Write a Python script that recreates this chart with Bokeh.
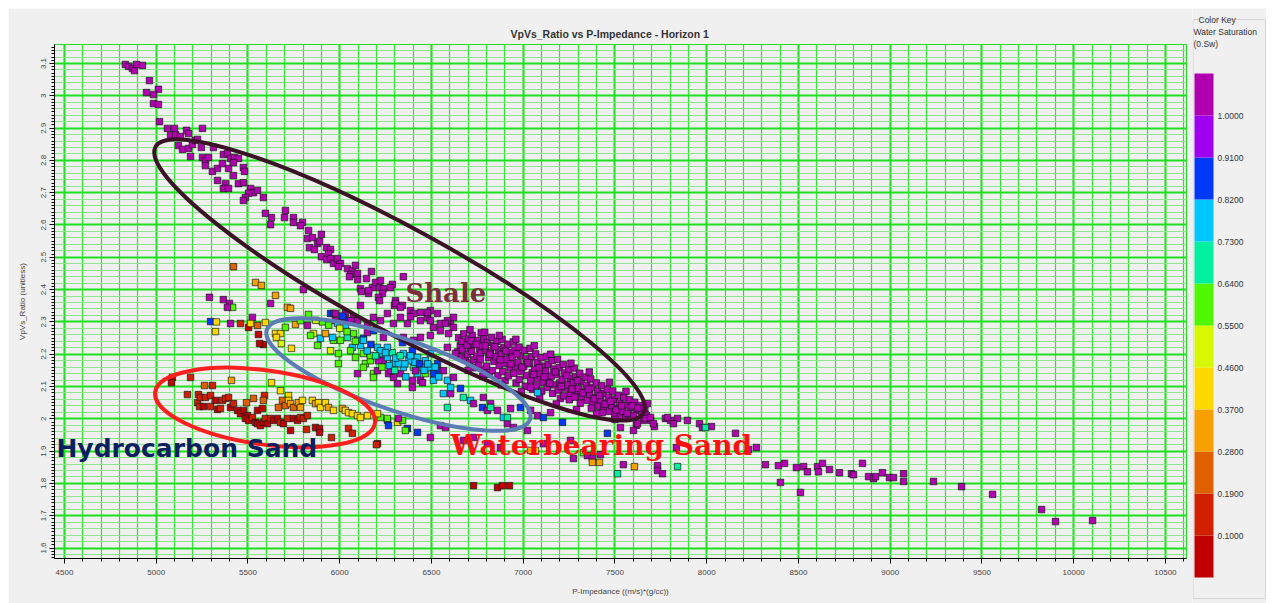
from bokeh.core.properties import value
from bokeh.embed import file_html
from bokeh.layouts import column, row
from bokeh.models import (ColumnDataSource, CustomJSTickFormatter, Label,
                          LinearColorMapper, Range1d, SingleIntervalTicker, Spacer)
from bokeh.plotting import figure
from bokeh.resources import INLINE
import math

TITLE = "VpVs_Ratio vs P-Impedance - Horizon 1"
X_LABEL = "P-Impedance ((m/s)*(g/cc))"
Y_LABEL = "VpVs_Ratio (unitless)"

# Water saturation colour key: 12 classes, low -> high
SW_EDGES = [0.01, 0.10, 0.19, 0.28, 0.37, 0.46, 0.55, 0.64, 0.73, 0.82, 0.91, 1.00, 1.09]
SW_TICKS = [0.10, 0.19, 0.28, 0.37, 0.46, 0.55, 0.64, 0.73, 0.82, 0.91, 1.00]
SW_TICK_LABELS = ["0.1000", "0.1900", "0.2800", "0.3700", "0.4600", "0.5500",
                  "0.6400", "0.7300", "0.8200", "0.9100", "1.0000"]
SW_COLORS = ["#c00000", "#d02000", "#e06000", "#f8a000", "#ffd800", "#d8f800",
             "#50f800", "#00f0a0", "#00c8ff", "#0038f8", "#a000f0", "#b000b0"]

SHALE_SW = 1.0

# Shale trend (Sw = 1): (P-impedance, Vp/Vs)
shale_trend = [
    (4832, 3.097), (4849, 3.091), (4870, 3.085), (4881, 3.078), (4892, 3.097), (4925, 3.094),
    (4963, 3.047), (5012, 3.020), (4947, 3.010), (4985, 3.004), (4985, 2.976), (5012, 2.973),
    (5018, 2.920), (5061, 2.899), (5099, 2.899), (5165, 2.893), (5252, 2.899),
    (5078, 2.877), (5105, 2.880), (5132, 2.874), (5176, 2.883),
    (5121, 2.846), (5143, 2.834), (5176, 2.837), (5197, 2.849), (5187, 2.812), (5214, 2.862),
    (5225, 2.865), (5246, 2.840), (5252, 2.809), (5268, 2.800), (5285, 2.809), (5268, 2.784),
    (5312, 2.840), (5306, 2.766), (5334, 2.775), (5366, 2.818), (5388, 2.821), (5405, 2.806),
    (5426, 2.809), (5448, 2.806), (5361, 2.790), (5394, 2.775), (5421, 2.793), (5475, 2.778),
    (5481, 2.766), (5334, 2.738), (5377, 2.728), (5366, 2.713), (5394, 2.713), (5421, 2.753),
    (5448, 2.728), (5475, 2.731), (5514, 2.713), (5530, 2.700), (5503, 2.698), (5486, 2.685),
    (5475, 2.676), (5584, 2.685), (5552, 2.707), (5595, 2.636), (5628, 2.623), (5623, 2.601),
    (5704, 2.645), (5699, 2.623), (5748, 2.623), (5748, 2.608), (5797, 2.608), (5786, 2.598),
    (5830, 2.583), (5824, 2.558), (5851, 2.561), (5900, 2.571), (5879, 2.543), (5890, 2.549),
    (5835, 2.530), (5862, 2.524), (5900, 2.502), (5928, 2.530), (5950, 2.524), (5939, 2.512),
    (5928, 2.493), (5950, 2.496), (5966, 2.481), (5988, 2.496), (6004, 2.481), (5993, 2.471),
    (6042, 2.465), (6069, 2.459), (6086, 2.475), (6059, 2.447), (6097, 2.450), (6053, 2.440),
    (6097, 2.431), (6146, 2.434), (6173, 2.456), (6113, 2.403), (6118, 2.394), (6157, 2.388),
    (6178, 2.406), (6195, 2.422), (6222, 2.428), (6217, 2.406), (6238, 2.403), (6233, 2.388),
    (6211, 2.376), (6217, 2.366), (6287, 2.416), (6304, 2.366), (6298, 2.351), (6342, 2.351),
    (6347, 2.440), (5802, 2.400), (6113, 2.351), (6157, 2.397), (6277, 2.406), (6304, 2.357),
    (6331, 2.345), (6386, 2.335), (6440, 2.329), (6494, 2.335), (6533, 2.326), (6604, 2.298),
    (6620, 2.314), (6031, 2.326), (6075, 2.314), (6097, 2.304), (6151, 2.295), (6184, 2.314),
    (6222, 2.304), (6260, 2.326), (6293, 2.295), (6331, 2.314), (6369, 2.295), (6402, 2.326),
    (6440, 2.304), (6478, 2.314), (6511, 2.283), (6549, 2.295), (6587, 2.304), (6620, 2.283),
    (6386, 2.316), (6478, 2.329), (6494, 2.304), (6576, 2.295), (6549, 2.273), (6593, 2.264),
    (6494, 2.258), (6440, 2.252), (6402, 2.243), (6347, 2.252),
]

# Dense shale cloud (Sw = 1)
shale_core = [
    (6648, 2.251), (6657, 2.226), (6642, 2.207), (6661, 2.192),
    (6676, 2.263), (6689, 2.238), (6671, 2.215), (6684, 2.188),
    (6703, 2.247), (6712, 2.219), (6697, 2.199), (6708, 2.173),
    (6722, 2.258), (6735, 2.231), (6718, 2.209), (6731, 2.182), (6740, 2.158),
    (6753, 2.243), (6762, 2.217), (6747, 2.194), (6758, 2.167),
    (6771, 2.266), (6786, 2.247), (6779, 2.225), (6768, 2.203), (6790, 2.151),
    (6805, 2.237), (6797, 2.212), (6812, 2.189), (6801, 2.163), (6815, 2.138),
    (6828, 2.252), (6838, 2.227), (6823, 2.204), (6841, 2.178), (6832, 2.149),
    (6857, 2.240), (6866, 2.214), (6851, 2.192), (6869, 2.165), (6862, 2.133),
    (6885, 2.246), (6895, 2.221), (6881, 2.199), (6898, 2.171), (6889, 2.146), (6901, 2.118),
    (6917, 2.231), (6925, 2.206), (6912, 2.184), (6928, 2.157), (6919, 2.133),
    (6946, 2.238), (6955, 2.213), (6941, 2.191), (6958, 2.163), (6949, 2.141), (6961, 2.111),
    (6977, 2.222), (6985, 2.196), (6972, 2.174), (6988, 2.147), (6979, 2.122),
    (7008, 2.212), (7016, 2.185), (7003, 2.162), (7019, 2.134), (7012, 2.101),
    (7037, 2.218), (7045, 2.192), (7033, 2.171), (7049, 2.143), (7041, 2.119), (7052, 2.091),
    (7068, 2.201), (7076, 2.175), (7063, 2.153), (7079, 2.125), (7071, 2.102),
    (7097, 2.189), (7106, 2.163), (7093, 2.141), (7109, 2.112), (7101, 2.086),
    (7128, 2.193), (7136, 2.169), (7123, 2.147), (7139, 2.121), (7131, 2.097),
    (7158, 2.180), (7166, 2.154), (7153, 2.132), (7169, 2.105), (7161, 2.079),
    (7187, 2.184), (7196, 2.159), (7183, 2.137), (7199, 2.111), (7191, 2.089), (7203, 2.063),
    (7218, 2.168), (7226, 2.142), (7213, 2.121), (7229, 2.095), (7221, 2.071),
    (7248, 2.151), (7256, 2.126), (7243, 2.105), (7259, 2.079), (7251, 2.059),
    (7278, 2.157), (7286, 2.131), (7273, 2.111), (7289, 2.087), (7281, 2.067),
    (7308, 2.141), (7316, 2.116), (7303, 2.094), (7319, 2.069), (7311, 2.048),
    (7338, 2.129), (7346, 2.104), (7333, 2.083), (7349, 2.057),
    (7368, 2.123), (7376, 2.097), (7363, 2.076), (7379, 2.051), (7371, 2.033),
    (7398, 2.111), (7406, 2.086), (7393, 2.065), (7409, 2.039),
    (7428, 2.103), (7436, 2.079), (7423, 2.059), (7439, 2.033), (7431, 2.019),
    (7458, 2.091), (7466, 2.067), (7453, 2.047), (7469, 2.023),
    (7488, 2.086), (7496, 2.061), (7483, 2.041), (7499, 2.014),
    (7518, 2.073), (7526, 2.049), (7513, 2.031), (7529, 2.009),
    (7548, 2.067), (7556, 2.043), (7543, 2.023), (7559, 2.005),
    (7578, 2.059), (7586, 2.035), (7573, 2.015),
    (7608, 2.051), (7616, 2.027), (7603, 2.009),
    (7638, 2.041), (7646, 2.021), (7663, 2.031), (7671, 2.011),
    (6665, 2.240), (6694, 2.228), (6716, 2.242), (6744, 2.230), (6766, 2.185), (6793, 2.226),
    (6818, 2.200), (6846, 2.223), (6874, 2.183), (6905, 2.210), (6933, 2.170), (6965, 2.201),
    (6994, 2.160), (7024, 2.174), (7057, 2.137), (7087, 2.158), (7114, 2.130), (7145, 2.110),
    (7175, 2.145), (7208, 2.100), (7236, 2.134), (7265, 2.092), (7296, 2.118), (7325, 2.080),
    (7355, 2.092), (7386, 2.062), (7416, 2.072), (7446, 2.045), (7476, 2.054), (7506, 2.027),
    (7536, 2.040), (7566, 2.017), (7596, 2.040), (7626, 2.033),
    (6710, 2.276), (6790, 2.268), (6870, 2.258), (6960, 2.246), (7060, 2.226), (7150, 2.200),
    (7260, 2.172), (7360, 2.145), (7470, 2.113), (7560, 2.085),
    (6700, 2.150), (6780, 2.132), (6880, 2.105), (6990, 2.085), (7090, 2.066), (7180, 2.046),
    (7290, 2.028), (7400, 2.016), (7500, 1.998),
    (7677, 2.047), (7694, 1.995), (7655, 1.995), (7775, 2.001), (7803, 1.995), (7841, 2.001),
    (7819, 1.985), (7895, 1.995), (7715, 1.976), (7961, 1.985), (7977, 1.973), (8026, 1.976),
    (7617, 1.980), (7835, 1.911), (8271, 1.911), (8228, 1.905), (8157, 1.955),
]

# High-impedance shale tail (Sw = 1)
shale_tail = [
    (8320, 1.858), (8391, 1.855), (8424, 1.862), (8489, 1.849), (8528, 1.852), (8549, 1.836),
    (8604, 1.852), (8609, 1.836), (8631, 1.862), (8669, 1.843), (8724, 1.833), (8789, 1.830),
    (8800, 1.827), (8849, 1.862), (8882, 1.821), (8909, 1.815), (8920, 1.821), (8958, 1.833),
    (8996, 1.818), (9018, 1.818), (9073, 1.830), (9073, 1.806), (9236, 1.806), (9389, 1.790),
    (9558, 1.766), (9825, 1.719), (9901, 1.682), (10103, 1.685), (8402, 1.803), (8511, 1.772),
]

# Brine sand and mixed samples: (P-impedance, Vp/Vs, Sw)
brine_sand = [
    (5296, 2.301, 0.86), (5328, 2.300, 0.42), (5323, 2.270, 0.42), (5405, 2.295, 1.0),
    (5459, 2.295, 0.15), (5524, 2.314, 1.0), (5503, 2.283, 0.05), (5557, 2.261, 0.05),
    (5584, 2.230, 0.05), (5563, 2.233, 0.05), (5514, 2.295, 0.42), (5552, 2.289, 0.24),
    (5595, 2.298, 0.42), (5650, 2.264, 0.42), (5677, 2.264, 0.42), (5655, 2.252, 0.42),
    (5682, 2.233, 0.50), (5737, 2.218, 0.42), (5704, 2.283, 0.60), (5759, 2.292, 0.32),
    (5786, 2.304, 0.60), (5830, 2.323, 0.60), (5824, 2.289, 1.0), (5857, 2.264, 0.50),
    (5841, 2.258, 0.60), (5895, 2.249, 0.78), (5879, 2.227, 0.60), (5950, 2.326, 0.86),
    (5966, 2.326, 0.86), (5922, 2.264, 0.32), (5950, 2.211, 0.50), (5977, 2.304, 1.0),
    (5993, 2.202, 0.60), (5993, 2.171, 0.60), (5966, 2.243, 0.60), (6020, 2.314, 1.0),
    (6048, 2.304, 0.86), (6031, 2.289, 0.78), (6075, 2.264, 0.60), (6097, 2.243, 0.78),
    (6113, 2.227, 0.78), (6129, 2.202, 0.60), (6140, 2.171, 0.60), (6167, 2.180, 0.60),
    (6184, 2.140, 0.60), (6206, 2.149, 1.0), (6069, 2.221, 0.78), (6097, 2.140, 1.0),
    (6129, 2.249, 0.86), (6206, 2.221, 0.78), (6233, 2.202, 0.78), (6238, 2.180, 1.0),
    (6260, 2.190, 0.78), (6287, 2.205, 0.68), (6293, 2.171, 0.78), (6266, 2.140, 1.0),
    (6293, 2.128, 1.0), (6331, 2.140, 1.0), (6347, 2.159, 0.78), (6375, 2.180, 0.78),
    (6402, 2.159, 0.68), (6424, 2.140, 0.78), (6440, 2.119, 1.0), (6396, 2.119, 1.0),
    (6467, 2.140, 0.60), (6494, 2.159, 0.78), (6533, 2.149, 0.86), (6511, 2.119, 0.78),
    (5977, 2.326, 1.0), (5988, 2.295, 0.78), (6015, 2.318, 0.86), (6059, 2.304, 1.0),
    (5961, 2.252, 0.78), (6004, 2.243, 0.60), (6042, 2.252, 0.68), (6059, 2.211, 0.60),
    (6086, 2.190, 0.60), (6129, 2.243, 0.78), (6151, 2.267, 1.0), (6184, 2.273, 0.86),
    (6167, 2.196, 0.60), (6129, 2.159, 0.60), (6184, 2.128, 0.60), (6211, 2.180, 1.0),
    (6222, 2.211, 0.78), (6260, 2.221, 0.78), (6238, 2.252, 1.0), (6277, 2.149, 1.0),
    (6315, 2.109, 1.0), (6320, 2.171, 0.78), (6347, 2.202, 0.78), (6396, 2.211, 0.86),
    (6424, 2.190, 0.78), (6413, 2.149, 1.0), (6451, 2.159, 0.78), (6467, 2.180, 0.78),
    (6494, 2.202, 0.78), (6511, 2.140, 0.86), (6533, 2.171, 0.86), (6565, 2.149, 1.0),
    (6587, 2.119, 0.78), (6620, 2.128, 1.0), (6396, 2.097, 1.0), (6451, 2.112, 1.0),
    (6342, 2.236, 0.86), (6587, 2.221, 1.0), (6631, 2.202, 1.0),
    (6250, 2.205, 0.78), (6270, 2.165, 0.78), (6305, 2.188, 0.78), (6330, 2.195, 0.68),
    (6355, 2.170, 0.78), (6385, 2.195, 0.78), (6410, 2.175, 0.78), (6435, 2.170, 0.86),
    (6460, 2.150, 0.78), (6480, 2.170, 0.78), (6520, 2.160, 0.78), (6540, 2.130, 0.78),
    (6300, 2.150, 0.68), (6360, 2.130, 0.78), (6230, 2.160, 0.60), (6195, 2.195, 0.68),
    (6170, 2.230, 0.86), (6150, 2.210, 0.78), (6085, 2.240, 0.60), (6040, 2.270, 0.60),
    (6000, 2.280, 0.50), (5940, 2.290, 0.60), (5905, 2.300, 0.60), (5870, 2.305, 0.50),
    (6587, 2.035, 0.68), (6674, 2.066, 0.68), (6713, 2.057, 0.78), (6658, 2.094, 0.86),
    (6604, 2.078, 1.0), (6783, 2.066, 1.0), (6822, 2.047, 1.0), (6778, 2.035, 0.86),
    (6805, 2.026, 1.0), (6860, 2.026, 1.0), (6892, 2.004, 0.78), (6931, 2.032, 1.0),
    (6985, 2.035, 0.86), (7040, 2.026, 1.0), (7078, 2.010, 1.0), (7110, 2.004, 0.86),
    (7149, 2.019, 1.0), (7040, 2.097, 1.0), (7078, 2.081, 0.78), (6914, 1.985, 1.0),
    (6947, 1.973, 1.0), (7023, 1.964, 1.0), (6729, 2.047, 1.0), (6565, 2.078, 0.78),
    (6604, 2.097, 0.78), (6822, 2.035, 0.68), (6914, 2.004, 0.68),
    (6222, 2.004, 0.60), (6260, 1.995, 0.86), (6315, 1.989, 0.42), (6342, 1.995, 0.60),
    (6424, 1.958, 0.86), (6494, 1.942, 1.0), (6549, 1.979, 1.0), (6576, 1.973, 1.0),
    (6674, 1.933, 1.0), (6729, 1.942, 1.0), (6805, 1.923, 1.0), (6876, 1.911, 1.0),
    (6206, 1.923, 0.05), (7040, 1.902, 0.32), (7067, 1.902, 0.42), (7258, 1.933, 1.0),
    (7459, 1.955, 0.86), (7530, 1.973, 1.0), (7601, 1.964, 1.0), (7623, 1.985, 1.0),
    (7666, 2.001, 1.0), (7694, 2.004, 1.0), (7710, 1.985, 1.0), (7786, 2.004, 1.0),
    (7110, 1.923, 1.0), (7214, 1.989, 0.86), (7993, 1.973, 0.68),
    (7274, 1.877, 1.0), (7328, 1.895, 0.60), (7350, 1.886, 1.0), (7377, 1.877, 1.0),
    (7421, 1.889, 1.0), (7377, 1.865, 0.32), (7416, 1.865, 0.32), (7546, 1.858, 1.0),
    (7606, 1.852, 0.32), (7514, 1.830, 0.68), (7732, 1.855, 1.0), (7732, 1.840, 1.0),
    (7759, 1.830, 1.0), (7841, 1.852, 0.68),
]

# Hydrocarbon sand and low-ratio samples: (P-impedance, Vp/Vs, Sw)
gas_sand = [
    (5088, 2.128, 0.05), (5083, 2.112, 0.05), (5187, 2.128, 0.15), (5170, 2.075, 0.15),
    (5230, 2.075, 0.15), (5263, 2.103, 0.24), (5306, 2.103, 0.15), (5410, 2.119, 0.32),
    (5628, 2.112, 0.42), (5677, 2.087, 0.42), (5721, 2.072, 0.42),
    (5225, 2.050, 0.15), (5241, 2.066, 0.15), (5268, 2.066, 0.15), (5296, 2.072, 0.15),
    (5236, 2.038, 0.15), (5257, 2.038, 0.05), (5296, 2.038, 0.15), (5323, 2.057, 0.05),
    (5334, 2.029, 0.05), (5350, 2.032, 0.15), (5361, 2.057, 0.15), (5377, 2.063, 0.15),
    (5394, 2.066, 0.15), (5405, 2.035, 0.05), (5421, 2.047, 0.15),
    (5443, 2.026, 0.05), (5459, 2.016, 0.05), (5475, 2.026, 0.05), (5497, 2.010, 0.05),
    (5486, 2.001, 0.05), (5503, 1.995, 0.05), (5524, 2.004, 0.15), (5541, 1.989, 0.05),
    (5552, 1.985, 0.05), (5568, 1.979, 0.05), (5584, 1.989, 0.05), (5595, 2.001, 0.15),
    (5606, 1.985, 0.05), (5623, 2.001, 0.15), (5639, 1.995, 0.05), (5661, 2.001, 0.05),
    (5677, 1.989, 0.15), (5693, 1.985, 0.05), (5715, 2.001, 0.15), (5748, 2.001, 0.05),
    (5770, 1.995, 0.05), (5786, 2.004, 0.15), (5802, 2.001, 0.15), (5824, 2.010, 0.15),
    (5492, 2.050, 0.24), (5530, 2.063, 0.24), (5590, 2.072, 0.15), (5584, 2.057, 0.24),
    (5552, 2.026, 0.05), (5579, 2.032, 0.05),
    (5666, 2.035, 0.24), (5688, 2.057, 0.24), (5704, 2.041, 0.24), (5721, 2.057, 0.42),
    (5732, 2.047, 0.32), (5748, 2.035, 0.24), (5775, 2.050, 0.32), (5797, 2.057, 0.42),
    (5786, 2.035, 0.32),
    (5851, 2.057, 0.42), (5868, 2.047, 0.32), (5884, 2.050, 0.42), (5895, 2.035, 0.42),
    (5922, 2.050, 0.42), (5939, 2.035, 0.32), (5966, 2.026, 0.42), (6015, 2.032, 0.32),
    (6031, 2.026, 0.42), (6048, 2.019, 0.42), (6069, 2.016, 0.42), (6097, 2.010, 0.42),
    (6113, 2.004, 0.42),
    (5732, 1.964, 0.05), (5819, 1.967, 0.15), (5868, 1.973, 0.05), (5890, 1.970, 0.05),
    (5890, 1.958, 0.05), (5955, 1.942, 0.15), (6048, 1.970, 0.15), (6069, 1.955, 0.15),
    (6200, 1.920, 0.15),
    (6151, 2.010, 0.42), (6206, 2.016, 0.42), (6260, 2.001, 0.60), (6320, 2.001, 1.0),
    (6369, 1.970, 0.86), (6266, 1.979, 0.86), (6358, 1.964, 0.60),
    (6729, 1.793, 0.05), (6860, 1.787, 0.05), (6887, 1.793, 0.05), (6925, 1.793, 0.05),
    (5421, 2.471, 0.24), (5541, 2.422, 0.32), (5573, 2.413, 0.32), (5650, 2.382, 0.32),
    (5290, 2.376, 1.0), (5366, 2.369, 1.0), (5399, 2.357, 1.0), (5715, 2.345, 0.32),
    (5416, 2.345, 0.60), (5732, 2.342, 0.32), (5623, 2.357, 1.0), (5388, 2.345, 1.0),
]

# Interpreted zones: centre (data), size in pixels, tilt in degrees
ZONE_X = [6326, 6320, 5593]
ZONE_Y = [2.430, 2.137, 2.035]
ZONE_W = [556, 278, 222]
ZONE_H = [104, 72, 74]
ZONE_TILT = [-28.6, -18.8, -8.0]
ZONE_COLORS = ["#3b1226", "#5b7cb4", "#ff1f1f"]

imp, ratio, sw = [], [], []
for group in (shale_trend, shale_core, shale_tail):
    for a, b in group:
        imp.append(a); ratio.append(b); sw.append(SHALE_SW)
for group in (brine_sand, gas_sand):
    for a, b, c in group:
        imp.append(a); ratio.append(b); sw.append(c)

source = ColumnDataSource(dict(imp=imp, ratio=ratio, sw=sw))
cmap = LinearColorMapper(palette=SW_COLORS, low=0.0099, high=1.09)

AX_FONT = "Liberation Sans"

p = figure(width=1184, height=595,
           x_range=Range1d(4445.5, 10614.9), y_range=Range1d(1.5675, 3.1588),
           output_backend="svg", toolbar_location=None,
           min_border_left=46, min_border_right=6, min_border_top=36, min_border_bottom=45,
           background_fill_color="#f0f0f0", border_fill_color="#f0f0f0",
           outline_line_color="#22dd22")
p.frame_align = False

p.title.text = TITLE
p.title.align = "left"
p.title.offset = 456
p.title.text_font = AX_FONT
p.title.text_font_size = "10.5px"
p.title.text_font_style = "bold"
p.title.text_color = "#333333"

p.xaxis.ticker = SingleIntervalTicker(interval=500, num_minor_ticks=5)
p.yaxis.ticker = SingleIntervalTicker(interval=0.1, num_minor_ticks=10)
p.yaxis.formatter = CustomJSTickFormatter(code="return String(Number(tick.toFixed(2)));")
p.yaxis.major_label_orientation = "vertical"
p.xaxis.axis_label = X_LABEL
p.yaxis.axis_label = Y_LABEL
for ax in (p.xaxis, p.yaxis):
    ax.axis_line_color = "#000000"
    ax.major_tick_line_color = "#000000"
    ax.minor_tick_line_color = "#000000"
    ax.major_tick_out = 5
    ax.major_tick_in = 0
    ax.minor_tick_out = 3
    ax.minor_tick_in = 0
    ax.major_label_text_font = AX_FONT
    ax.major_label_text_font_size = "8px"
    ax.major_label_text_color = "#444444"
    ax.axis_label_text_font = AX_FONT
    ax.axis_label_text_font_size = "8px"
    ax.axis_label_text_font_style = "normal"
    ax.axis_label_text_color = "#444444"
p.xaxis.major_label_standoff = 6
p.xaxis.axis_label_standoff = 9
p.yaxis.major_label_standoff = 3
p.yaxis.axis_label_standoff = 12

p.xgrid.grid_line_color = "#1fe01f"
p.xgrid.grid_line_width = 2
p.xgrid.minor_grid_line_color = "#2fe32f"
p.xgrid.minor_grid_line_width = 1.2
p.ygrid.ticker = SingleIntervalTicker(interval=0.1, num_minor_ticks=5)
p.ygrid.grid_line_color = "#1fe01f"
p.ygrid.grid_line_width = 2
p.ygrid.minor_grid_line_color = "#8de68d"
p.ygrid.minor_grid_line_width = 1.2

p.scatter("imp", "ratio", source=source, marker="square", size=6.5,
          fill_color={"field": "sw", "transform": cmap},
          line_color="#1a1a1a", line_width=0.7)

zones = ColumnDataSource(dict(x=ZONE_X, y=ZONE_Y, w=ZONE_W, h=ZONE_H,
                              a=[math.radians(t) for t in ZONE_TILT], c=ZONE_COLORS))
p.ellipse(x="x", y="y", width="w", height="h", angle="a", source=zones,
          width_units="screen", height_units="screen",
          fill_color=None, line_color="c", line_width=4)

p.add_layout(Label(x=6358, y=2.391, text="Shale", text_font="DejaVu Serif",
                   text_font_size="26px", text_font_style="bold", text_color="#7a2f3a",
                   text_baseline="alphabetic"))
p.add_layout(Label(x=4456, y=1.908, text="Hydrocarbon Sand", text_font="DejaVu Sans",
                   text_font_size="25px", text_font_style="bold", text_color="#0b1f5e",
                   text_baseline="alphabetic"))
p.add_layout(Label(x=6604, y=1.917, text="Waterbearing Sand", text_font="DejaVu Serif",
                   text_font_size="28px", text_font_style="bold", text_color="#ff1010",
                   text_baseline="alphabetic"))

# Colour key panel (its own small figure, frame covers the whole canvas)
k = figure(width=74, height=595, x_range=Range1d(0, 74), y_range=Range1d(-0.0457, 1.2293),
           output_backend="svg", toolbar_location=None, min_border=0,
           x_axis_location=None, y_axis_location=None,
           background_fill_color="#f0f0f0", border_fill_color="#f0f0f0",
           outline_line_color=None)
k.frame_align = False
k.grid.visible = False
k.quad(left=0.5, right=73, bottom=-0.035, top=1.2057, fill_color=None, line_color="#d4d4d4")
k.quad(left=2, right=21, bottom=SW_EDGES[:-1], top=SW_EDGES[1:],
       fill_color=SW_COLORS, line_color=None)
k.text(x=[25] * len(SW_TICKS), y=SW_TICKS, text=SW_TICK_LABELS,
       text_font=value(AX_FONT), text_font_size="8.5px", text_baseline="middle",
       text_color="#333333")
k.text(x=[6, 1, 1], y=[1.2036, 1.1789, 1.1543],
       text=["Color Key", "Water Saturation", "(0.Sw)"],
       text_font=value(AX_FONT), text_font_size="8.5px", text_baseline="middle",
       text_color="#333333")

layout = column(Spacer(width=1274, height=8),
                row(Spacer(width=8, height=595), p, k))

open("out.html", "w").write(file_html(layout, INLINE))
